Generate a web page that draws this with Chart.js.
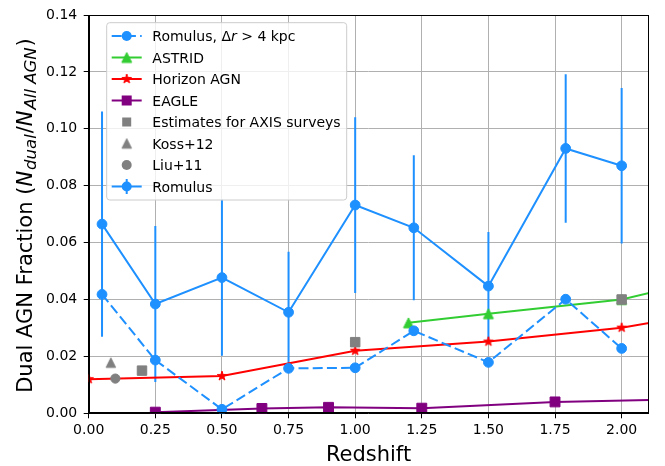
<!DOCTYPE html>
<html>
<head>
<meta charset="utf-8">
<script src="https://cdn.jsdelivr.net/npm/chart.js@4.4.1/dist/chart.umd.min.js"></script>
<style>
  html, body { margin: 0; padding: 0; background: #ffffff; }
  #wrap { width: 665px; height: 466px; }
</style>
</head>
<body>
<div id="wrap"><canvas id="chart" width="665" height="466"></canvas></div>
<script>
// ---- data ---------------------------------------------------------------
// Romulus dual-AGN fractions (all pairs, with Poisson errors) and pairs with dr > 4 kpc
const romulusZ       = [0.05, 0.25, 0.50, 0.75, 1.00, 1.22, 1.50, 1.79, 2.00];
const romulusFrac    = [0.0665, 0.0384, 0.0477, 0.0355, 0.0732, 0.0652, 0.0447, 0.0931, 0.0870];
const romulusErr     = [0.0396, 0.0274, 0.0275, 0.0213, 0.0309, 0.0255, 0.0190, 0.0261, 0.0273];
const romulusFarFrac = [0.0418, 0.0187, 0.0014, 0.0158, 0.0160, 0.0290, 0.0179, 0.0401, 0.0228];

// other simulations
const astridZ     = [1.2, 1.5, 2.0, 3.0];
const astridFrac  = [0.0318, 0.0350, 0.0400, 0.0625];
const horizonZ    = [0.0, 0.5, 1.0, 1.5, 2.0, 3.0];
const horizonFrac = [0.0120, 0.0131, 0.0220, 0.0252, 0.0301, 0.0460];
const eagleZ      = [0.25, 0.65, 0.90, 1.25, 1.75, 2.25];
const eagleFrac   = [0.0004, 0.0017, 0.0021, 0.0018, 0.0040, 0.0050];

// observational estimates
const axisZ    = [0.2, 1.0, 2.0];
const axisFrac = [0.0150, 0.0250, 0.0400];
const kossZ    = [0.083];
const kossFrac = [0.0178];
const liuZ     = [0.10];
const liuFrac  = [0.0122];

// axes
const xTicks = [0, 0.25, 0.5, 0.75, 1.0, 1.25, 1.5, 1.75, 2.0];
const yTicks = [0, 0.02, 0.04, 0.06, 0.08, 0.10, 0.12, 0.14];
const legendLabels = ['Romulus, \u0394r > 4 kpc', 'ASTRID', 'Horizon AGN', 'EAGLE',
                      'Estimates for AXIS surveys', 'Koss+12', 'Liu+11', 'Romulus'];

// ---- styling ------------------------------------------------------------
const BLUE = '#1e90ff', GREEN = '#32cd32', RED = '#ff0000', PURPLE = '#800080', GRAY = '#808080';
const FONT = "'DejaVu Sans', 'Liberation Sans', sans-serif";
const DASH = [10, 4.2];

// Marker sprites for shapes Chart.js does not draw the matplotlib way
function sprite(kind, size, color) {
  const s = Math.ceil(size) + 4;
  const c = document.createElement('canvas');
  c.width = s; c.height = s;
  const g = c.getContext('2d');
  g.translate(s / 2, s / 2);
  g.fillStyle = color; g.strokeStyle = color; g.lineWidth = 1; g.lineJoin = 'miter';
  g.beginPath();
  if (kind === 'star') {
    const R = size / 2, r = R * 0.382;
    for (let i = 0; i < 10; i++) {
      const a = -Math.PI / 2 + i * Math.PI / 5;
      const rr = i % 2 ? r : R;
      g.lineTo(rr * Math.cos(a), rr * Math.sin(a));
    }
  } else if (kind === 'tri') {
    const h = size / 2;
    g.moveTo(0, -h); g.lineTo(h, h); g.lineTo(-h, h);
  }
  g.closePath(); g.fill(); g.stroke();
  return c;
}
const starRed  = sprite('star', 10, RED);
const triGreen = sprite('tri', 10, GREEN);
const triGray  = sprite('tri', 9.5, GRAY);

const pts = (xs, ys) => xs.map((x, i) => ({ x: x, y: ys[i] }));

// ---- plugins ------------------------------------------------------------
const errorBars = {
  id: 'errorBars',
  beforeDatasetsDraw(chart) {
    const { ctx, chartArea: a, scales: { x, y } } = chart;
    ctx.save();
    ctx.beginPath(); ctx.rect(a.left, a.top, a.right - a.left, a.bottom - a.top); ctx.clip();
    ctx.strokeStyle = BLUE; ctx.lineWidth = 2; ctx.lineCap = 'butt';
    romulusZ.forEach((z, i) => {
      const px = x.getPixelForValue(z);
      ctx.beginPath();
      ctx.moveTo(px, y.getPixelForValue(romulusFrac[i] - romulusErr[i]));
      ctx.lineTo(px, y.getPixelForValue(romulusFrac[i] + romulusErr[i]));
      ctx.stroke();
    });
    ctx.restore();
  }
};

function drawRuns(ctx, runs, x, y, align) {
  let total = 0;
  runs.forEach(r => { ctx.font = r.font; r.w = ctx.measureText(r.t).width + (r.gap || 0); total += r.w; });
  let cx = align === 'center' ? x - total / 2 : x;
  runs.forEach(r => { ctx.font = r.font; ctx.fillText(r.t, cx + (r.pre || 0), y + (r.dy || 0)); cx += r.w; });
}

function drawMarker(ctx, kind, x, y, color) {
  ctx.save();
  ctx.fillStyle = color; ctx.strokeStyle = color; ctx.lineWidth = 1;
  if (kind === 'circle') {
    ctx.beginPath(); ctx.arc(x, y, 5, 0, Math.PI * 2); ctx.fill();
  } else if (kind === 'square') {
    ctx.fillRect(x - 5, y - 5, 10, 10);
  } else if (kind === 'graysquare') {
    ctx.fillRect(x - 4.5, y - 4.5, 9, 9);
  } else if (kind === 'graycircle') {
    ctx.beginPath(); ctx.arc(x, y, 5, 0, Math.PI * 2); ctx.fill();
  } else {
    const img = kind === 'star' ? starRed : kind === 'tri' ? triGreen : triGray;
    ctx.drawImage(img, x - img.width / 2, y - img.height / 2);
  }
  ctx.restore();
}

const decorations = {
  id: 'decorations',
  afterDatasetsDraw(chart) {
    const { ctx, chartArea: a } = chart;
    ctx.save();
    ctx.strokeStyle = '#000'; ctx.lineWidth = 1;
    ctx.strokeRect(Math.round(a.left) + 0.5, Math.round(a.top) + 0.5,
                   Math.round(a.right - a.left) - 1, Math.round(a.bottom - a.top) - 1);
    ctx.restore();
  },
  afterDraw(chart) {
    const { ctx, chartArea: a } = chart;
    ctx.save();
    ctx.fillStyle = '#000';
    ctx.textBaseline = 'alphabetic';

    // x title
    ctx.font = '21px ' + FONT;
    ctx.textAlign = 'center';
    ctx.fillText('Redshift', (a.left + a.right) / 2, 461);

    // y title with subscripts
    ctx.textAlign = 'left';
    ctx.save();
    ctx.translate(32, 215.5);
    ctx.rotate(-Math.PI / 2);
    const up = '21px ' + FONT, it = 'italic 21px ' + FONT, sub = 'italic 16.5px ' + FONT;
    drawRuns(ctx, [
      { t: 'Dual AGN Fraction (', font: up },
      { t: 'N', font: it, gap: 1 },
      { t: 'dual', font: sub, dy: 4, gap: 1 },
      { t: '/', font: up },
      { t: 'N', font: it, gap: 1 },
      { t: 'All AGN', font: sub, dy: 4, gap: 1 },
      { t: ')', font: up }
    ], 0, 0, 'center');
    ctx.restore();

    // legend
    const L = { x: 106.7, y: 22.7, w: 240, h: 177.3 };
    ctx.beginPath();
    ctx.roundRect(L.x, L.y, L.w, L.h, 3);
    ctx.fillStyle = 'rgba(255,255,255,0.8)'; ctx.fill();
    ctx.strokeStyle = '#cccccc'; ctx.lineWidth = 1; ctx.stroke();

    const rows = [
      { color: BLUE,   line: 'dash',  mk: 'circle' },
      { color: GREEN,  line: 'solid', mk: 'tri' },
      { color: RED,    line: 'solid', mk: 'star' },
      { color: PURPLE, line: 'solid', mk: 'square' },
      { color: GRAY,   line: null,    mk: 'graysquare' },
      { color: GRAY,   line: null,    mk: 'graytri' },
      { color: GRAY,   line: null,    mk: 'graycircle' },
      { color: BLUE,   line: 'solid', mk: 'circle', err: true }
    ];
    const hx0 = 111.7, hx1 = 141.7, hxm = 126.7, tx = 152.3;
    rows.forEach((r, i) => {
      const yy = 36 + i * 21.5;
      if (r.line) {
        ctx.save();
        ctx.strokeStyle = r.color; ctx.lineWidth = 2;
        if (r.line === 'dash') ctx.setLineDash(DASH);
        ctx.beginPath(); ctx.moveTo(hx0, yy); ctx.lineTo(hx1, yy); ctx.stroke();
        ctx.restore();
      }
      if (r.err) {
        ctx.save();
        ctx.strokeStyle = r.color; ctx.lineWidth = 2;
        ctx.beginPath(); ctx.moveTo(hxm, yy - 7.5); ctx.lineTo(hxm, yy + 7.5); ctx.stroke();
        ctx.restore();
      }
      drawMarker(ctx, r.mk, hxm, yy, r.color);
      ctx.fillStyle = '#000';
      const f = '14px ' + FONT;
      if (i === 0) {
        drawRuns(ctx, [
          { t: 'Romulus, \u0394', font: f },
          { t: 'r', font: 'italic 14px ' + FONT },
          { t: ' > 4 kpc', font: f }
        ], tx, yy + 5, 'left');
      } else {
        ctx.font = f;
        ctx.fillText(legendLabels[i], tx, yy + 5);
      }
    });
    ctx.restore();
  }
};

// ---- chart --------------------------------------------------------------
const lineDefaults = { borderWidth: 2, tension: 0, clip: 0, pointBorderWidth: 1 };

new Chart(document.getElementById('chart'), {
  type: 'line',
  data: {
    datasets: [
      Object.assign({}, lineDefaults, {
        label: legendLabels[4], data: pts(axisZ, axisFrac), showLine: false,
        pointStyle: 'rect', pointRadius: 6.7, backgroundColor: GRAY, borderColor: GRAY
      }),
      Object.assign({}, lineDefaults, {
        label: legendLabels[5], data: pts(kossZ, kossFrac), showLine: false,
        pointStyle: triGray, backgroundColor: GRAY, borderColor: GRAY
      }),
      Object.assign({}, lineDefaults, {
        label: legendLabels[6], data: pts(liuZ, liuFrac), showLine: false,
        pointStyle: 'circle', pointRadius: 4.6, backgroundColor: GRAY, borderColor: GRAY
      }),
      Object.assign({}, lineDefaults, {
        label: legendLabels[7], data: pts(romulusZ, romulusFrac),
        borderColor: BLUE, backgroundColor: BLUE, pointStyle: 'circle', pointRadius: 4.9
      }),
      Object.assign({}, lineDefaults, {
        label: legendLabels[0], data: pts(romulusZ, romulusFarFrac), borderDash: DASH,
        borderColor: BLUE, backgroundColor: BLUE, pointStyle: 'circle', pointRadius: 4.9
      }),
      Object.assign({}, lineDefaults, {
        label: legendLabels[1], data: pts(astridZ, astridFrac),
        borderColor: GREEN, backgroundColor: GREEN, pointStyle: triGreen
      }),
      Object.assign({}, lineDefaults, {
        label: legendLabels[2], data: pts(horizonZ, horizonFrac),
        borderColor: RED, backgroundColor: RED, pointStyle: starRed
      }),
      Object.assign({}, lineDefaults, {
        label: legendLabels[3], data: pts(eagleZ, eagleFrac),
        borderColor: PURPLE, backgroundColor: PURPLE, pointStyle: 'rect', pointRadius: 7
      })
    ]
  },
  options: {
    responsive: false,
    animation: false,
    events: [],
    layout: { padding: { left: 0, top: 15, right: 16.7, bottom: 0 } },
    plugins: { legend: { display: false }, tooltip: { enabled: false } },
    scales: {
      x: {
        type: 'linear', min: 0, max: 2.1,
        afterBuildTicks: s => { s.ticks = xTicks.map(v => ({ value: v })); },
        afterFit: s => { s.height = 52.7; },
        ticks: { callback: v => Number(v).toFixed(2), color: '#000', padding: 4,
                 font: { family: FONT, size: 14 }, maxRotation: 0, autoSkip: false },
        grid: { color: '#b0b0b0', lineWidth: 1, tickLength: 5, tickColor: '#000', tickWidth: 1 },
        border: { display: true, color: '#000', width: 1 }
      },
      y: {
        type: 'linear', min: 0, max: 0.14,
        afterBuildTicks: s => { s.ticks = yTicks.map(v => ({ value: v })); },
        afterFit: s => { s.width = 88.7; },
        ticks: { callback: v => Number(v).toFixed(2), color: '#000', padding: 6.5,
                 font: { family: FONT, size: 14 }, autoSkip: false },
        grid: { color: '#b0b0b0', lineWidth: 1, tickLength: 5, tickColor: '#000', tickWidth: 1 },
        border: { display: true, color: '#000', width: 1 }
      }
    }
  },
  plugins: [errorBars, decorations]
});
</script>
</body>
</html>
